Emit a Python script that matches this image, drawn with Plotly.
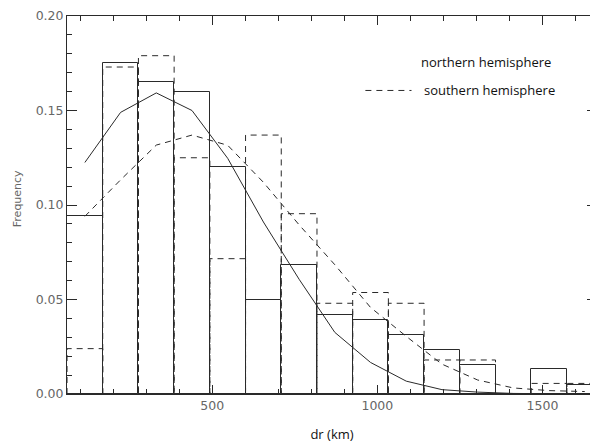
import plotly.graph_objects as go

# ---- data ----
bin_centers = [114.6, 222.7, 330.8, 438.9, 547.0, 655.1, 763.2, 871.3,
               979.4, 1087.5, 1195.6, 1303.7, 1411.8, 1519.9, 1628.0]
bin_width = 108.1
north_freq = [0.094, 0.175, 0.165, 0.160, 0.120, 0.050, 0.068, 0.042,
              0.039, 0.031, 0.0235, 0.0156, 0.0, 0.013, 0.005]
south_freq = [0.024, 0.173, 0.179, 0.125, 0.0716, 0.137, 0.0954, 0.048,
              0.0537, 0.048, 0.018, 0.018, 0.0, 0.0056, 0.0056]
north_fit = [0.1225, 0.149, 0.1593, 0.150, 0.1247, 0.091, 0.0607, 0.0326,
             0.0167, 0.0068, 0.0023, 0.0010, 0.0003, 0.0001, 0.0]
south_fit = [0.094, 0.1133, 0.1317, 0.137, 0.1316, 0.112, 0.0895, 0.0684,
             0.0458, 0.0305, 0.0158, 0.0074, 0.0032, 0.0018, 0.0013]
x_ticks = [500, 1000, 1500]
y_ticks = [0.00, 0.05, 0.10, 0.15, 0.20]
legend_labels = ["northern hemisphere", "southern hemisphere"]

LINE = "#2a2a2a"
TICKC = "#666666"
DASH = "6px,5px"

fig = go.Figure()

# northern histogram (solid outlined bars)
fig.add_trace(go.Bar(
    x=bin_centers, y=north_freq, width=bin_width,
    marker=dict(color="rgba(0,0,0,0)", line=dict(color=LINE, width=1)),
    showlegend=False, hoverinfo="skip"))

# southern histogram (dashed outlined bars)
sx, sy = [], []
for c, h in zip(bin_centers, south_freq):
    l, r = c - bin_width / 2, c + bin_width / 2
    sx += [l, l, r, r, None]
    sy += [0, h, h, 0, None]
fig.add_trace(go.Scatter(x=sx, y=sy, mode="lines",
                         line=dict(color=LINE, width=1, dash=DASH),
                         showlegend=False, hoverinfo="skip"))

# fitted curves
fig.add_trace(go.Scatter(x=bin_centers, y=north_fit, mode="lines",
                         line=dict(color=LINE, width=1),
                         showlegend=False, hoverinfo="skip"))
fig.add_trace(go.Scatter(x=bin_centers, y=south_fit, mode="lines",
                         line=dict(color=LINE, width=1, dash=DASH),
                         showlegend=False, hoverinfo="skip"))

# legend (text + dashed sample)
fig.add_annotation(x=0.665, y=0.877, xref="paper", yref="paper",
                   text=legend_labels[0], showarrow=False,
                   xanchor="left", yanchor="middle",
                   font=dict(family="Open Sans", size=13, color="#111"))
fig.add_annotation(x=0.669, y=0.803, xref="paper", yref="paper",
                   text=legend_labels[1], showarrow=False,
                   xanchor="left", yanchor="middle",
                   font=dict(family="Open Sans", size=13, color="#111"))
fig.add_shape(type="line", xref="paper", yref="paper",
              x0=0.563, x1=0.65, y0=0.803, y1=0.803,
              line=dict(color=LINE, width=1, dash=DASH))

# y-axis title
fig.add_annotation(x=-0.092, y=0.516, xref="paper", yref="paper",
                   text="Frequency", textangle=-90, showarrow=False,
                   xanchor="center", yanchor="middle",
                   font=dict(family="DejaVu Sans", size=11, color=TICKC))

# the page body adds an 8 px offset, so the figure is 8 px smaller
fig.update_layout(
    width=590, height=435,
    margin=dict(l=59, r=0, t=4, b=43),
    paper_bgcolor="white", plot_bgcolor="white",
    bargap=0,
)
fig.update_xaxes(
    range=[60.5, 1665], tickvals=x_ticks,
    showline=True, linecolor=LINE, linewidth=1, mirror="allticks",
    ticks="inside", ticklen=9, tickcolor=LINE, tickwidth=1,
    minor=dict(dtick=100, tick0=0, ticks="inside", ticklen=5, tickcolor=LINE),
    showgrid=False, zeroline=False,
    tickfont=dict(family="DejaVu Sans", size=12.5, color=TICKC),
    title=dict(text="dr (km)", standoff=21,
               font=dict(family="Open Sans", size=13, color="#111")),
)
fig.update_yaxes(
    range=[0, 0.2], tickvals=y_ticks, tickformat=".2f",
    ticklabeloverflow="allow",
    showline=True, linecolor=LINE, linewidth=1, mirror="allticks",
    ticks="inside", ticklen=10, tickcolor=LINE, tickwidth=1,
    minor=dict(dtick=0.01, tick0=0, ticks="inside", ticklen=5, tickcolor=LINE),
    showgrid=False, zeroline=False,
    tickfont=dict(family="DejaVu Sans", size=12.5, color=TICKC),
)

fig.write_html("out.html")
